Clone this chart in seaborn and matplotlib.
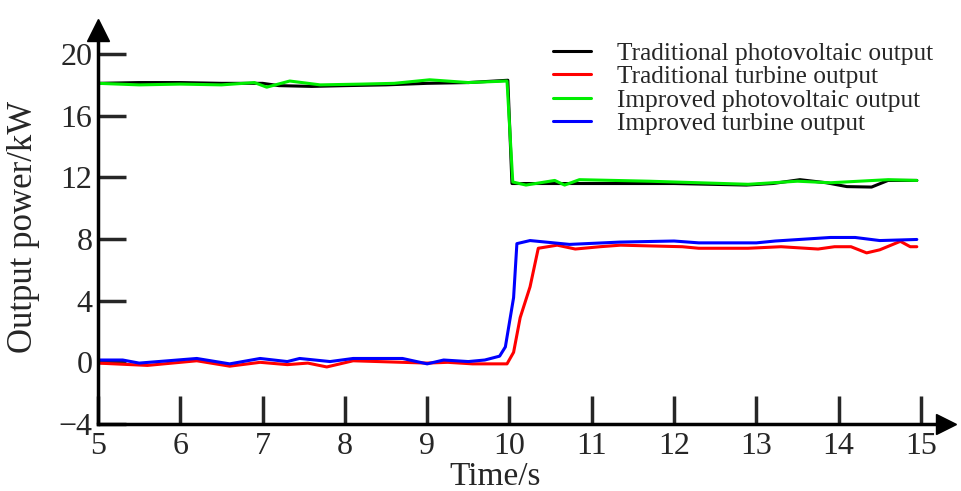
import matplotlib
matplotlib.use("Agg")
import matplotlib.pyplot as plt
import seaborn as sns
import pandas as pd

# series (time in s, power in kW)
t_trad_pv = [5.0, 5.5, 6.0, 6.5, 7.0, 7.2, 7.6, 8.0, 8.5, 9.0, 9.5, 9.98, 10.03, 10.5, 11.0, 12.0, 12.88,
             13.2, 13.53, 13.85, 14.1, 14.4, 14.6, 14.95]
p_trad_pv = [18.1, 18.15, 18.15, 18.1, 18.1, 17.95, 17.9, 17.95, 18.0, 18.1, 18.15, 18.3, 11.6, 11.6, 11.6,
             11.6, 11.5, 11.6, 11.85, 11.65, 11.4, 11.37, 11.8, 11.8]

t_trad_wt = [5.0, 5.6, 6.2, 6.6, 6.97, 7.3, 7.55, 7.78, 8.1, 8.7, 9.0, 9.25, 9.55, 9.97, 10.05, 10.13,
             10.25, 10.35, 10.58, 10.8, 11.1, 11.35, 12.1, 12.3, 12.9, 13.3, 13.75, 13.95, 14.15, 14.34,
             14.5, 14.75, 14.87, 14.95]
p_trad_wt = [-0.05, -0.2, 0.1, -0.25, 0.0, -0.15, -0.05, -0.3, 0.1, 0.0, -0.05, 0.0, -0.1, -0.1, 0.65, 2.9,
             4.9, 7.4, 7.6, 7.35, 7.5, 7.6, 7.5, 7.4, 7.4, 7.5, 7.35, 7.5, 7.5, 7.1,
             7.3, 7.85, 7.5, 7.5]

t_imp_pv = [5.0, 5.5, 6.0, 6.5, 6.9, 7.05, 7.33, 7.7, 8.2, 8.6, 9.03, 9.5, 9.97, 10.04, 10.2, 10.55, 10.67,
            10.85, 11.7, 12.9, 13.5, 13.9, 14.6, 14.95]
p_imp_pv = [18.1, 18.0, 18.05, 18.0, 18.15, 17.85, 18.25, 18.0, 18.05, 18.1, 18.33, 18.15, 18.25, 11.7, 11.5,
            11.8, 11.5, 11.85, 11.75, 11.55, 11.75, 11.65, 11.85, 11.8]

t_imp_wt = [5.0, 5.3, 5.5, 6.2, 6.6, 6.97, 7.3, 7.45, 7.82, 8.1, 8.7, 9.0, 9.2, 9.5, 9.7, 9.88, 9.95,
            10.05, 10.09, 10.25, 10.73, 11.34, 12.0, 12.3, 13.0, 13.23, 13.9, 14.2, 14.5, 14.95]
p_imp_wt = [0.15, 0.15, -0.05, 0.25, -0.1, 0.25, 0.05, 0.25, 0.05, 0.25, 0.25, -0.1, 0.15, 0.05, 0.15, 0.4,
            1.0, 4.2, 7.7, 7.9, 7.65, 7.8, 7.87, 7.75, 7.75, 7.87, 8.1, 8.1, 7.9, 7.97]

names = ["Traditional photovoltaic output", "Traditional turbine output",
         "Improved photovoltaic output", "Improved turbine output"]
colors = ["black", "#ff0000", "#00ee00", "#0000ff"]

frames = []
for name, t, p in zip(names, [t_trad_pv, t_trad_wt, t_imp_pv, t_imp_wt],
                      [p_trad_pv, p_trad_wt, p_imp_pv, p_imp_wt]):
    frames.append(pd.DataFrame({"Time": t, "Power": p, "Series": name}))
df = pd.concat(frames, ignore_index=True)

sns.set_style("ticks")
plt.rcParams["font.family"] = ["Liberation Serif", "DejaVu Serif"]

fig = plt.figure(figsize=(9.61, 4.91), dpi=100)
ax = fig.add_axes([0.102, 0.1365, 0.882, 0.8024])

sns.lineplot(data=df, x="Time", y="Power", hue="Series", hue_order=names,
             palette=colors, estimator=None, sort=False, linewidth=2.2, ax=ax)

ax.set_xlim(5, 15.3)
ax.set_ylim(-4, 21.56)
ax.set_xticks(range(5, 16))
ax.set_yticks(range(-4, 21, 4))
ax.set_yticklabels(["\u22124" if v < 0 else str(v) for v in range(-4, 21, 4)])
ax.tick_params(direction="in", length=20, width=2.5, labelsize=23, pad=4)
ax.tick_params(axis="x", pad=6)
for s in ["top", "right"]:
    ax.spines[s].set_visible(False)
for s in ["left", "bottom"]:
    ax.spines[s].set_linewidth(2.5)
    ax.spines[s].set_color("black")

# arrow heads on the axes
ax.plot(1, 0, ">k", markersize=15, transform=ax.transAxes, clip_on=False)
ax.plot(0, 1, "^k", markersize=16, transform=ax.transAxes, clip_on=False)

ax.set_xlabel("Time/s", fontsize=24)
ax.xaxis.set_label_coords(0.469, -0.094)
ax.set_ylabel("Output power/kW", fontsize=25)
ax.yaxis.set_label_coords(-0.068, 0.5)

leg = ax.legend(loc="upper left", bbox_to_anchor=(0.5754, 0.915), bbox_transform=fig.transFigure,
                frameon=False, fontsize=18.3, borderpad=0, borderaxespad=0,
                handlelength=1.5, handletextpad=1.0, labelspacing=0.03)
for line in leg.get_lines():
    line.set_linewidth(2.2)

fig.savefig("out.png", dpi=100)
